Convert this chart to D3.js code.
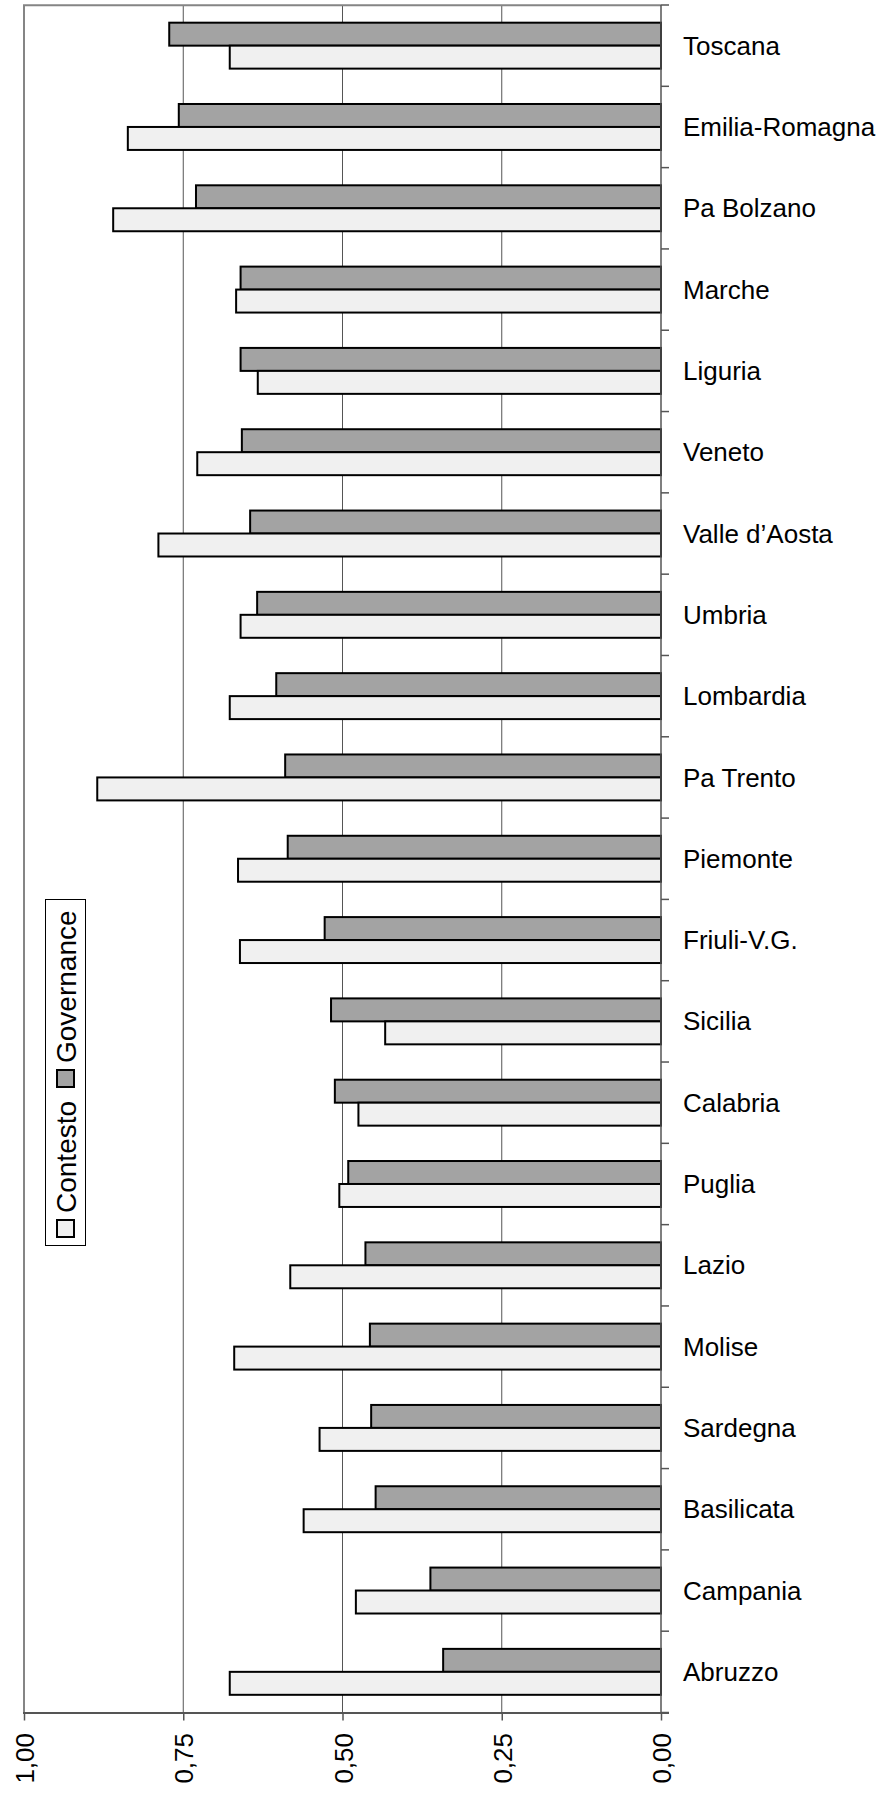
<!DOCTYPE html>
<html>
<head>
<meta charset="utf-8">
<script src="https://cdn.jsdelivr.net/npm/d3@7"></script>
<style>
  html, body { margin: 0; padding: 0; background: #fff; }
  svg { display: block; font-family: "Liberation Sans", Arial, sans-serif; }
</style>
</head>
<body>
<svg id="chart" width="885" height="1795"></svg>
<script>
// Regions, ordered by the Governance index
const regions = ["Toscana", "Emilia-Romagna", "Pa Bolzano", "Marche", "Liguria", "Veneto",
  "Valle d\u2019Aosta", "Umbria", "Lombardia", "Pa Trento", "Piemonte", "Friuli-V.G.",
  "Sicilia", "Calabria", "Puglia", "Lazio", "Molise", "Sardegna", "Basilicata",
  "Campania", "Abruzzo"];

const governance = [0.772, 0.757, 0.730, 0.660, 0.660, 0.658, 0.645, 0.634, 0.604, 0.590,
  0.586, 0.528, 0.518, 0.512, 0.491, 0.464, 0.457, 0.455, 0.448, 0.362, 0.342];

const contesto = [0.677, 0.837, 0.860, 0.667, 0.633, 0.728, 0.789, 0.660, 0.677, 0.885,
  0.664, 0.661, 0.433, 0.475, 0.505, 0.582, 0.670, 0.536, 0.561, 0.479, 0.677];

const seriesNames = ["Governance", "Contesto"];
const seriesFill = { "Governance": "#a3a3a3", "Contesto": "#f0f0f0" };
const xTicks = [1, 0.75, 0.5, 0.25, 0];

const rows = regions.map((r, i) => ({ region: r, Governance: governance[i], Contesto: contesto[i] }));

const svg = d3.select("#chart");

const plot = { left: 24, right: 661, top: 5, bottom: 1712.5 };

// value axis runs right-to-left: 0 at the right edge, 1 at the left
const x = d3.scaleLinear().domain([0, 1]).range([plot.right, plot.left]);
const y = d3.scaleBand().domain(regions).range([plot.top, plot.bottom]).padding(0);
const ySub = d3.scaleBand().domain(seriesNames).range([0, y.bandwidth()])
  .paddingInner(0).paddingOuter(0.77);

// gridlines
svg.append("g")
  .selectAll("line")
  .data([0.25, 0.5, 0.75])
  .join("line")
  .attr("x1", d => x(d)).attr("x2", d => x(d))
  .attr("y1", plot.top).attr("y2", plot.bottom)
  .attr("stroke", "#555").attr("stroke-width", 1);

// plot area frame (top and left)
svg.append("path")
  .attr("d", `M${plot.left},${plot.bottom} V${plot.top + 0.25} H${plot.right}`)
  .attr("fill", "none").attr("stroke", "#858585").attr("stroke-width", 2);

// bars
const groups = svg.append("g")
  .selectAll("g")
  .data(rows)
  .join("g")
  .attr("transform", d => `translate(0,${y(d.region)})`);

groups.selectAll("rect")
  .data(d => seriesNames.map(s => ({ key: s, value: d[s] })))
  .join("rect")
  .attr("x", d => x(d.value))
  .attr("width", d => x(0) - x(d.value))
  .attr("y", d => ySub(d.key))
  .attr("height", ySub.bandwidth())
  .attr("fill", d => seriesFill[d.key])
  .attr("stroke", "#000")
  .attr("stroke-width", 2);

// category axis on the right (zero line), ticks between categories
const catAxis = svg.append("g");
catAxis.append("line")
  .attr("x1", plot.right).attr("x2", plot.right)
  .attr("y1", plot.top).attr("y2", plot.bottom)
  .attr("stroke", "#555").attr("stroke-width", 1.5);
const boundaries = regions.map(r => y(r)).concat([plot.bottom]);
catAxis.selectAll("line.tick")
  .data(boundaries)
  .join("line")
  .attr("class", "tick")
  .attr("x1", plot.right).attr("x2", plot.right + 8)
  .attr("y1", d => d).attr("y2", d => d)
  .attr("stroke", "#555").attr("stroke-width", 1.5);
catAxis.selectAll("text")
  .data(regions)
  .join("text")
  .attr("x", 683)
  .attr("y", d => y(d) + y.bandwidth() / 2)
  .attr("dy", "0.35em")
  .attr("font-size", 26)
  .attr("fill", "#000")
  .text(d => d);

// value axis at the bottom
const fmt = d => d3.format(".2f")(d).replace(".", ",");
const xAxis = svg.append("g")
  .attr("transform", `translate(0,${plot.bottom})`)
  .call(d3.axisBottom(x).tickValues(xTicks).tickSize(8).tickSizeOuter(0).tickFormat(fmt));
xAxis.select(".domain")
  .attr("d", `M${plot.left - 1},0.5H${plot.right + 8}`)
  .attr("stroke", "#555").attr("stroke-width", 2);
xAxis.selectAll(".tick line").attr("stroke", "#555").attr("stroke-width", 1.5);
xAxis.selectAll(".tick text")
  .attr("font-size", 26)
  .attr("font-family", "'Liberation Sans', Arial, sans-serif")
  .attr("fill", "#000")
  .attr("text-anchor", "end")
  .attr("dy", null)
  .attr("y", null)
  .attr("transform", "translate(9.5,20.5) rotate(-90)");

// legend (rotated, reading bottom to top)
const legend = svg.append("g");
legend.append("rect")
  .attr("x", 45.5).attr("y", 899.5).attr("width", 40).attr("height", 346)
  .attr("fill", "#fff").attr("stroke", "#000").attr("stroke-width", 1);

const legendItems = [
  { key: "Contesto", sq: 1220, textEnd: 1213 },
  { key: "Governance", sq: 1070, textEnd: 1063 }
];
const li = legend.selectAll("g.item")
  .data(legendItems)
  .join("g")
  .attr("class", "item");
li.append("rect")
  .attr("x", 57).attr("y", d => d.sq)
  .attr("width", 17).attr("height", 17)
  .attr("fill", d => seriesFill[d.key])
  .attr("stroke", "#000").attr("stroke-width", 2);
li.append("text")
  .attr("transform", d => `translate(75.5,${d.textEnd}) rotate(-90)`)
  .attr("font-size", 28)
  .attr("fill", "#000")
  .text(d => d.key);
</script>
</body>
</html>
